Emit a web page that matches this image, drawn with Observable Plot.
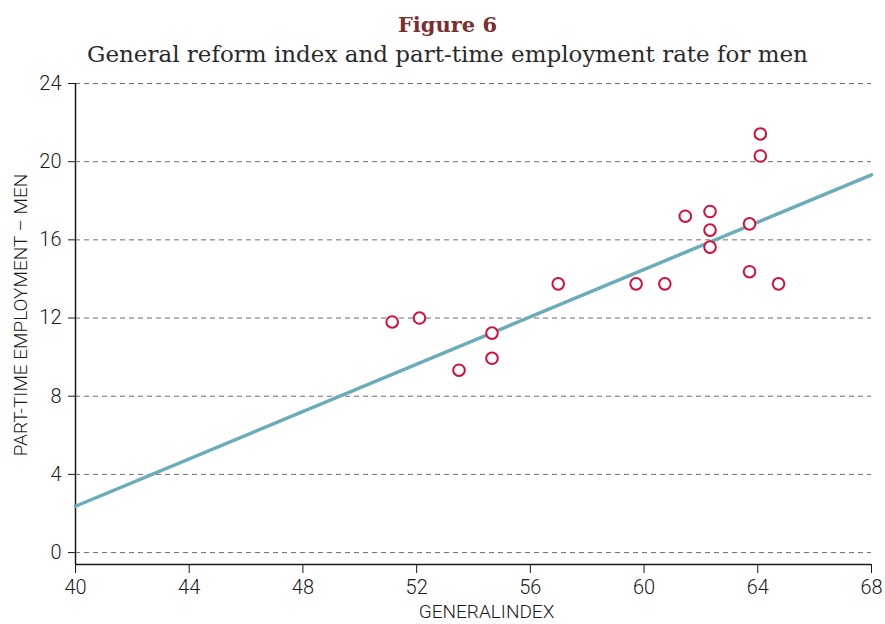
<!DOCTYPE html>
<html>
<head>
<meta charset="utf-8">
<script src="https://cdn.jsdelivr.net/npm/d3@7"></script>
<script src="https://cdn.jsdelivr.net/npm/@observablehq/plot@0.6"></script>
<style>
  html, body { margin: 0; padding: 0; background: #fff; }
  body { width: 885px; height: 624px; overflow: hidden; }
  #head { position: relative; height: 70px; }
  #title {
    position: absolute; left: 5px; width: 885px; top: 10px;
    text-align: center; font-family: "DejaVu Serif", serif; font-weight: bold;
    font-size: 21px; color: #7a2e2e; line-height: 30px;
  }
  #subtitle {
    position: absolute; left: 5px; width: 885px; top: 38px;
    text-align: center; font-family: "DejaVu Serif", serif;
    font-size: 23px; color: #2a2a2a; line-height: 32px; font-weight: 300;
  }
  #chart svg { display: block; }
  #chart svg text { font-weight: 300; }
</style>
</head>
<body>
<div id="head">
  <div id="title">Figure 6</div>
  <div id="subtitle">General reform index and part-time employment rate for men</div>
</div>
<div id="chart"></div>
<script>
// General reform index (x) and part-time employment rate for men (y), one entry per country
const generalIndex = [51.14, 52.10, 53.49, 54.65, 54.65, 56.98, 59.72, 60.73, 61.45, 62.32, 62.32, 62.32, 63.71, 63.71, 64.09, 64.09, 64.73];
const partTimeMen  = [11.80, 12.00,  9.33, 11.23,  9.94, 13.75, 13.75, 13.75, 17.21, 17.45, 16.50, 15.63, 16.82, 14.37, 21.42, 20.29, 13.75];

// Fitted line across the full index range
const fitIndex = [40, 68];
const fitRate  = [2.37, 19.33];

// Axis ticks
const xTicks = [40, 44, 48, 52, 56, 60, 64, 68];
const yTicks = [0, 4, 8, 12, 16, 20, 24];
const yFloor = -0.61;

const points = generalIndex.map((x, i) => ({x, y: partTimeMen[i]}));
const fit = fitIndex.map((x, i) => ({x, y: fitRate[i]}));

const narrow = "'Roboto', 'Liberation Sans Narrow', sans-serif";

const chart = Plot.plot({
  width: 885,
  height: 554,
  marginTop: 13,
  marginLeft: 75,
  marginRight: 14,
  marginBottom: 60,
  style: {fontFamily: narrow, fontSize: "20px", color: "#1a1a1a", background: "#fff", overflow: "visible"},
  x: {domain: [40, 68]},
  y: {domain: [yFloor, 24]},
  marks: [
    Plot.gridY(yTicks, {stroke: "#6e6e6e", strokeOpacity: 1, strokeWidth: 1, strokeDasharray: "5,4"}),
    Plot.axisY(yTicks, {tickSize: 7, tickPadding: 7, label: null, stroke: "#1a1a1a"}),
    Plot.axisX(xTicks, {tickSize: 9, tickPadding: 6, label: null, stroke: "#1a1a1a"}),
    Plot.ruleX([40], {stroke: "#1a1a1a", strokeWidth: 1.5}),
    Plot.ruleY([yFloor], {stroke: "#1a1a1a", strokeWidth: 1.5}),
    Plot.text(["GENERALINDEX"], {frameAnchor: "bottom", dy: 53, dx: 13, fontSize: 19, fill: "#1a1a1a"}),
    Plot.text(["PART-TIME EMPLOYMENT \u2013 MEN"], {frameAnchor: "left", textAnchor: "middle", rotate: -90, dx: -55, dy: -9, fontSize: 19, fill: "#1a1a1a"}),
    Plot.line(fit, {x: "x", y: "y", stroke: "#6aadb8", strokeWidth: 3.5}),
    Plot.dot(points, {x: "x", y: "y", r: 5.8, stroke: "#d0103a", strokeWidth: 2, fill: "#fff"})
  ]
});
document.getElementById("chart").appendChild(chart);
</script>
</body>
</html>
